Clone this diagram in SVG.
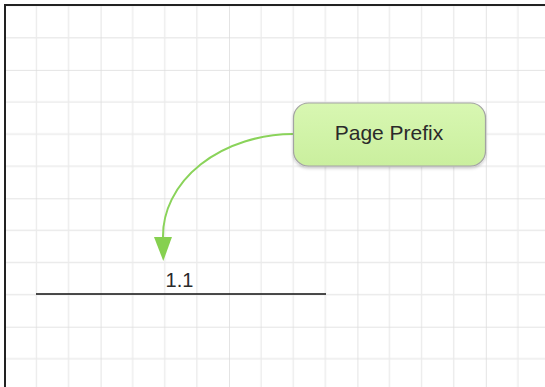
<svg xmlns="http://www.w3.org/2000/svg" width="545" height="387" viewBox="0 0 545 387">
  <defs>
    <!-- light grid, every fourth line slightly darker -->
    <pattern id="grid" x="100.6" y="69.9" width="128.4" height="128.4" patternUnits="userSpaceOnUse">
      <path d="M32.1 0V128.4M64.2 0V128.4M96.3 0V128.4M0 32.1H128.4M0 64.2H128.4M0 96.3H128.4" stroke="#ebebeb" stroke-width="1.3" fill="none"/>
      <path d="M0 0V128.4M0 0H128.4" stroke="#dcdcdc" stroke-width="1.5" fill="none"/>
    </pattern>
    <linearGradient id="nodeFill" x1="0" y1="0" x2="0" y2="1">
      <stop offset="0" stop-color="#d8f7b2"/>
      <stop offset="1" stop-color="#caef9e"/>
    </linearGradient>
    <filter id="shadow" x="-10%" y="-20%" width="120%" height="150%">
      <feDropShadow dx="0" dy="2" stdDeviation="1.5" flood-color="#000" flood-opacity="0.2"/>
    </filter>
    <marker id="arrow" markerUnits="userSpaceOnUse" markerWidth="24" markerHeight="18" refX="0" refY="9" orient="auto" viewBox="0 0 24 18">
      <path d="M0 0L24 9L0 18Z" fill="#86d050"/>
    </marker>
    <style>
      .label { font-family: "Liberation Sans", Arial, sans-serif; font-size: 20px; fill: #2a2a2a; }
      .node-label { font-size: 21px; }
      .node-box { fill: url(#nodeFill); stroke: #a3a3a3; stroke-width: 1.2; }
      .link { fill: none; stroke: #8ad35a; stroke-width: 2; }
    </style>
  </defs>

  <!-- canvas -->
  <rect x="0" y="0" width="545" height="387" fill="#ffffff"/>
  <rect x="5" y="5" width="545" height="387" fill="url(#grid)"/>
  <path d="M5 387V5H545" fill="none" stroke="#222222" stroke-width="2"/>

  <!-- connectors -->
  <g id="connectors">
    <path class="link" d="M293 134A131 102 0 0 0 163 237" marker-end="url(#arrow)"/>
  </g>

  <!-- baseline with page number -->
  <g id="page-number">
    <line x1="36" y1="294" x2="326" y2="294" stroke="#111111" stroke-width="1.6"/>
    <text class="label" x="179.5" y="287" text-anchor="middle">1.1</text>
  </g>

  <!-- callout node -->
  <g id="page-prefix">
    <rect class="node-box" x="293.5" y="103" width="192" height="63" rx="15" ry="15" filter="url(#shadow)"/>
    <text class="label node-label" x="389" y="140" text-anchor="middle">Page Prefix</text>
  </g>
</svg>
